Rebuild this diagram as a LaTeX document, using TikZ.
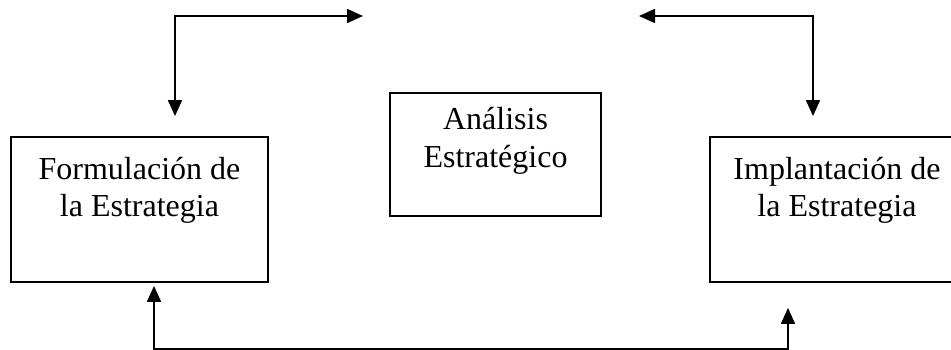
\documentclass[tikz,border=0pt]{standalone}
\usepackage{fontspec}
\setmainfont{Liberation Serif}
\usetikzlibrary{arrows.meta,positioning}

\begin{document}
\begin{tikzpicture}[x=1pt,y=1pt,>={Triangle[length=16pt,width=14pt]},
  box/.style={draw,line width=1.8pt,inner sep=0pt},
  caption/.style={align=center,inner sep=0pt,font=\fontsize{32}{37.5}\selectfont},
  link/.style={<->,line width=1.7pt}]

\useasboundingbox (0,0) rectangle (951,350);

\node[box, minimum width=257, minimum height=145] (formulacion) at (139.5,140.5) {};
\node[box, minimum width=211, minimum height=123] (analisis) at (495.5,195.5) {};
\node[box, minimum width=254, minimum height=145] (implantacion) at (837,140.5) {};

\node[caption, below=20.5pt of formulacion.north] (formulacionText) {Formulación de\\la Estrategia};
\node[caption, below=15pt of analisis.north] (analisisText) {Análisis\\Estratégico};
\node[caption, below=20.5pt of implantacion.north] (implantacionText) {Implantación de\\la Estrategia};

\coordinate (topLeft) at (363,334);
\coordinate (topRight) at (639,334);

\draw[link] ([xshift=35.5pt,yshift=20pt]formulacion.north) |- (topLeft);
\draw[link] (topRight) -| ([xshift=-24pt,yshift=20pt]implantacion.north);
\draw[link] ([xshift=14.5pt,yshift=-3pt]formulacion.south) -- ++(0,-63)
  -| ([xshift=-49pt,yshift=-25pt]implantacion.south);
\end{tikzpicture}
\end{document}
